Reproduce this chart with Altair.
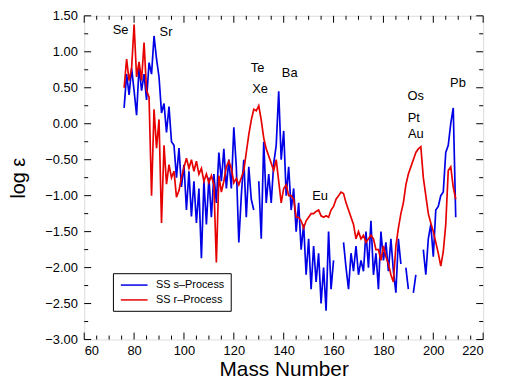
import altair as alt
import pandas as pd

# ---------------- data ----------------
mass_start = 76
s_process = [
    0.22, 0.69, 0.40, 0.77, 0.46, 0.12, 0.80, 0.46, 0.69, 0.33,        # 76-85
    0.85, 0.69, 1.22, 0.90, 0.65, 0.15, 0.28, -0.12, 0.24, -0.25,      # 86-95
    -0.30, -0.75, -0.34, -0.88, -0.57, -1.20, -0.66, -1.29, -0.80, -1.38,  # 96-105
    -0.90, -1.87, -0.80, -1.40, -0.75, -1.30, -0.70, -1.10, -0.40, -0.80,  # 106-115
    -0.35, -0.90, -0.50, -0.90, -0.05, -0.60, -1.65, -1.00, -0.50, -1.30,  # 116-125
    -0.60, -1.05, -1.20, None, -0.80, -1.60, -0.25, -1.10, -0.70, -1.10,   # 126-135
    -0.55, -0.30, 0.45, -0.50, -0.10, -1.00, -0.60, -1.20, -0.90, -1.50,   # 136-145
    -1.10, -1.75, -1.40, -2.10, -1.60, -2.30, -1.70, -2.20, -1.80, -2.50,  # 146-155
    -2.00, -2.60, -1.50, -2.30, -1.90, None, None, None, -1.65, -2.00,     # 156-165
    -2.30, -1.80, -2.05, -1.70, -2.10, -1.90, -2.05, -1.50, -2.00, -1.35,  # 166-175
    -2.10, -1.80, -2.30, -1.50, -1.90, -1.65, -2.05, -1.60, -2.05, -2.35,  # 176-185
    -1.60, -1.95, None, -2.00, -2.30, None, -2.35, -2.10, None, None,      # 186-195
    -1.75, -2.10, -1.60, -1.40, -1.85, -1.20, -1.15, -1.00, -0.95, -0.40,  # 196-205
    -0.30, 0.00, 0.22, -1.30,                                              # 206-209
]
r_process = [
    0.50, 0.90, 0.60, 0.77, 1.38, 0.65, 0.86, 0.60, 1.13, 0.46,        # 76-85
    0.37, -1.00, 0.20, -0.34, 0.06, -1.38, -0.30, -0.84, -0.57, -0.75,  # 86-95
    -0.66, -1.02, -0.93, -0.75, -0.61, -0.48, -0.62, -0.50, -0.66, -0.52,  # 96-105
    -0.70, -0.62, -0.80, -0.70, -0.82, -0.72, -0.85, -1.93, -0.72, -0.95,  # 106-115
    -0.80, -0.60, -0.52, -0.62, -0.82, -0.76, -0.85, -0.75, -0.65, -0.40,  # 116-125
    -0.15, 0.05, 0.20, 0.18, 0.25, 0.05, -0.20, -0.35, -0.45, -0.55,       # 126-135
    -0.65, -0.50, -0.80, -1.10, -0.90, -0.85, -1.00, -1.00, -1.05, -1.30,  # 136-145
    -1.30, -1.35, -1.45, -1.35, -1.30, -1.25, -1.25, -1.22, -1.20, -1.28,  # 146-155
    -1.30, -1.28, -1.30, -1.20, -1.15, -1.05, -1.00, -0.95, -0.97, -1.10,  # 156-165
    -1.20, -1.30, -1.40, -1.60, -1.50, -1.60, -1.55, -1.65, -1.60, -1.55,  # 166-175
    -1.60, -1.75, -1.75, -1.90, -1.70, -1.85, -1.95, -2.10, -2.20, -1.70,  # 176-185
    -1.45, -1.25, -1.10, -0.85, -0.70, -0.60, -0.50, -0.40, -0.35, -0.32,  # 186-195
    -0.75, -1.00, -1.25, -1.38, -1.50, -1.65, -1.80, -1.98, -1.78, -1.40,  # 196-205
    -0.65, -0.60, -0.88, -1.05,                                            # 206-209
]
series_names = ["SS s\u2013Process", "SS r\u2013Process"]
series_colors = ["#0000e6", "#e60000"]

label_names = ["Se", "Sr", "Te", "Xe", "Ba", "Eu", "Os", "Pt", "Au", "Pb"]
label_mass = [74.6, 92.8, 129.5, 130.5, 142.4, 154.6, 193.0, 192.2, 193.0, 209.9]
label_logeps = [1.30, 1.28, 0.77, 0.48, 0.71, -1.00, 0.38, 0.08, -0.14, 0.57]

x_major = list(range(60, 221, 20))
x_minor = [v for v in range(60, 221, 5) if v % 20 != 0]
y_major = [-3.0, -2.5, -2.0, -1.5, -1.0, -0.5, 0.0, 0.5, 1.0, 1.5]
y_minor = [-2.75, -2.25, -1.75, -1.25, -0.75, -0.25, 0.25, 0.75, 1.25]

W, H = 403, 327
FONT = "Liberation Sans"


def build(name, values):
    rows, seg = [], 0
    for i, v in enumerate(values):
        if v is None:
            seg += 1
            continue
        rows.append({"A": mass_start + i, "logeps": v, "series": name, "seg": f"{name}-{seg}"})
    return pd.DataFrame(rows)


s_df = build(series_names[0], s_process)
r_df = build(series_names[1], r_process)

xscale = alt.Scale(domain=[60, 220], nice=False, zero=False)
yscale = alt.Scale(domain=[-3.0, 1.5], nice=False, zero=False)
cscale = alt.Scale(domain=series_names, range=series_colors)

xaxis = alt.Axis(values=x_major, format="d", ticks=False, tickSize=0, domain=False, grid=False,
                 labelFontSize=13, labelPadding=5, title="Mass Number", titleFontSize=21,
                 titleFontWeight="normal", titlePadding=1, labelFont=FONT, titleFont=FONT,
                 labelColor="black", titleColor="black")
yaxis = alt.Axis(values=y_major, format=".2f", ticks=False, tickSize=0, domain=False, grid=False,
                 labelFontSize=13, labelPadding=7, title="log \u03b5", titleFontSize=20,
                 titleFontWeight="normal", titlePadding=16, labelFont=FONT, titleFont=FONT,
                 labelColor="black", titleColor="black")

legend = alt.Legend(orient="none", legendX=29, legendY=260, title=None, direction="vertical",
                    strokeColor="black", fillColor="white", padding=6, labelFontSize=11,
                    labelFont=FONT, labelColor="black", symbolType="M-2.7,0H2.7", symbolSize=100,
                    symbolStrokeWidth=1.5, symbolOffset=9.5, labelOffset=16, rowPadding=4,
                    cornerRadius=0)

X = alt.X("A:Q", scale=xscale, axis=xaxis)
Y = alt.Y("logeps:Q", scale=yscale, axis=yaxis)


def line_layer(df):
    return alt.Chart(df).mark_line(strokeWidth=1.7, strokeJoin="miter").encode(
        x=X, y=Y,
        color=alt.Color("series:N", scale=cscale, legend=legend),
        detail="seg:N",
        order="A:Q",
    )


blue = line_layer(s_df)
red = line_layer(r_df)

lab_df = pd.DataFrame({"name": label_names, "A": label_mass, "logeps": label_logeps})
labels = alt.Chart(lab_df).mark_text(fontSize=13, font=FONT, color="black",
                                     align="center", baseline="middle").encode(
    x=X, y=Y, text="name:N",
)


def xticks(vals, length):
    d = pd.DataFrame({"A": vals})
    base = alt.Chart(d).mark_rule(color="black", strokeWidth=1)
    bottom = base.encode(x=X, y=alt.value(H), y2=alt.value(H - length))
    top = base.encode(x=X, y=alt.value(0), y2=alt.value(length))
    return [bottom, top]


def yticks(vals, length):
    d = pd.DataFrame({"logeps": vals})
    base = alt.Chart(d).mark_rule(color="black", strokeWidth=1)
    left = base.encode(y=Y, x=alt.value(0), x2=alt.value(length))
    right = base.encode(y=Y, x=alt.value(W), x2=alt.value(W - length))
    return [left, right]


tick_layers = xticks(x_major, 7) + xticks(x_minor, 4) + yticks(y_major, 7) + yticks(y_minor, 4)

chart = alt.layer(blue, red, labels, *tick_layers).properties(
    width=W, height=H,
    autosize=alt.AutoSizeParams(type="none"),
    padding={"left": 77, "top": 6, "right": 16, "bottom": 40},
).configure_view(stroke="black", strokeWidth=1).configure(font=FONT, background="white")

chart.save("out.html", embed_options={"renderer": "svg", "actions": False})
